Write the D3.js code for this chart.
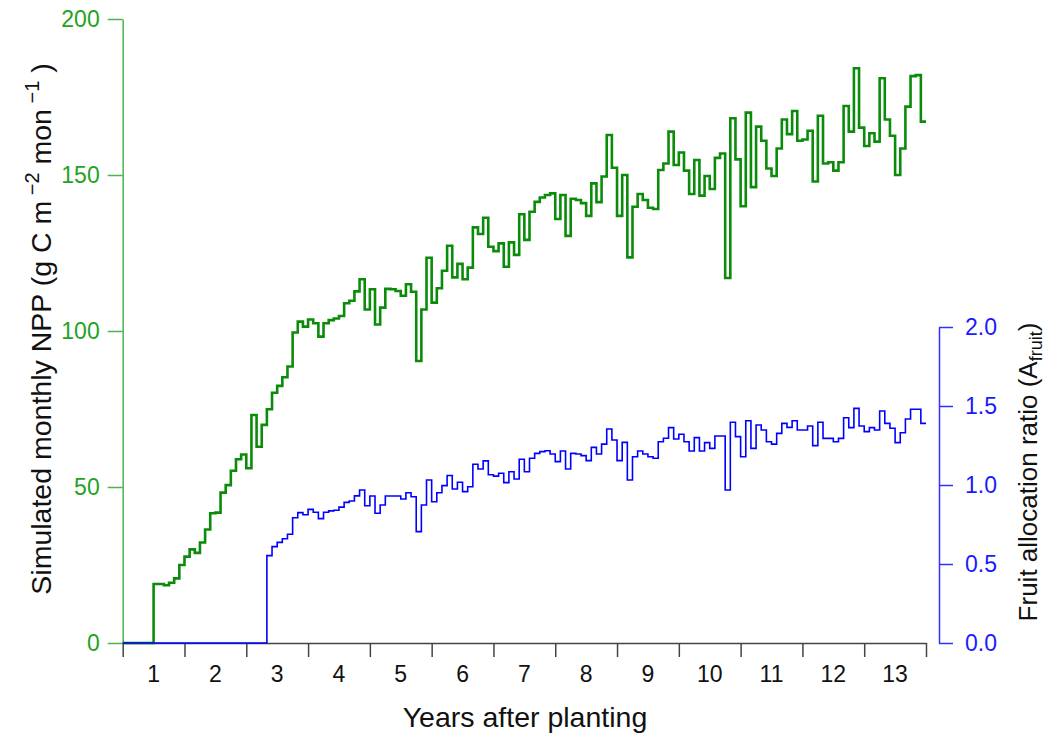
<!DOCTYPE html>
<html>
<head>
<meta charset="utf-8">
<script src="https://cdn.jsdelivr.net/npm/d3@7"></script>
<style>
  body { margin: 0; background: #fff; }
  svg { font-family: "Liberation Sans", Arial, sans-serif; }
</style>
</head>
<body>
<div id="chart"></div>
<script>
// monthly values, month 0 = planting, 156 months in total
var npp = [
  0, 0, 0, 0, 0, 0, 18.9, 18.9, 18.5, 19.3, 20.7, 25,
  27.7, 30, 28.9, 32.2, 36.4, 41.6, 41.8, 48.2, 50.6, 55.2, 58.9, 60.4,
  56, 73.1, 62.9, 69.9, 74.9, 80.2, 82.4, 85.2, 88.6, 99.5, 103, 101.4,
  103.7, 102.5, 98.2, 102.5, 103.5, 104, 104.8, 108.9, 109.7, 112.7, 116.6, 106.9,
  113.4, 102.1, 107.5, 113.5, 113.4, 112.8, 111.3, 115, 112.6, 90.4, 106.9, 123.5,
  109.1, 113.7, 119.3, 127.3, 117.2, 121.5, 116.6, 120.3, 133.2, 131.1, 136.3, 127,
  125.6, 128.1, 120.6, 128.4, 124.4, 137.4, 129.2, 138.2, 141.4, 142.8, 143.6, 144.1,
  135.9, 143.6, 130.5, 142.4, 142, 141, 136.9, 147.3, 141.3, 149.5, 162.8, 152.3,
  136.9, 150, 123.6, 139.8, 143.9, 142, 139.5, 139.1, 151.6, 153.7, 163.9, 153.2,
  157.2, 151.4, 143.9, 154.8, 143.4, 149.7, 145.5, 155.5, 156.9, 117, 168.2, 155,
  140, 170, 146.1, 165.5, 161, 152.1, 149.7, 158.5, 167.8, 163.1, 170.5, 161,
  161.4, 164.2, 147.9, 169, 153.7, 154.1, 151.4, 154.1, 172.1, 163.9, 184.2, 165.2,
  159.3, 163.4, 160.7, 181, 167.8, 162.6, 150, 158.5, 171.9, 181.7, 182, 167.1
];

var afruit = [
  0, 0, 0, 0, 0, 0, 0, 0, 0, 0, 0, 0,
  0, 0, 0, 0, 0, 0, 0, 0, 0, 0, 0, 0,
  0, 0, 0, 0, 0.553, 0.61, 0.637, 0.66, 0.688, 0.793, 0.825, 0.812,
  0.846, 0.828, 0.787, 0.828, 0.836, 0.84, 0.86, 0.89, 0.899, 0.931, 0.968, 0.869,
  0.93, 0.821, 0.873, 0.93, 0.93, 0.93, 0.911, 0.951, 0.926, 0.705, 0.873, 1.032,
  0.894, 0.951, 0.996, 1.06, 0.975, 1.017, 0.958, 0.989, 1.131, 1.101, 1.153, 1.065,
  1.056, 1.074, 1.015, 1.084, 1.038, 1.163, 1.084, 1.169, 1.2, 1.211, 1.217, 1.196,
  1.148, 1.215, 1.101, 1.2, 1.196, 1.186, 1.154, 1.238, 1.196, 1.259, 1.354, 1.285,
  1.154, 1.27, 1.032, 1.179, 1.215, 1.196, 1.179, 1.169, 1.274, 1.296, 1.363, 1.291,
  1.321, 1.274, 1.215, 1.3, 1.215, 1.268, 1.232, 1.31, 1.31, 0.968, 1.397, 1.306,
  1.179, 1.407, 1.232, 1.38, 1.348, 1.274, 1.259, 1.327, 1.39, 1.365, 1.407, 1.348,
  1.348, 1.373, 1.249, 1.397, 1.295, 1.295, 1.274, 1.295, 1.426, 1.363, 1.485, 1.373,
  1.338, 1.363, 1.348, 1.468, 1.39, 1.359, 1.268, 1.331, 1.418, 1.479, 1.479, 1.39
];

var yearLabels = ["1", "2", "3", "4", "5", "6", "7", "8", "9", "10", "11", "12", "13"];
var nppTicks = [0, 50, 100, 150, 200];
var fruitTicks = [0, 0.5, 1, 1.5, 2];

var width = 1049, height = 736;

var svg = d3.select('#chart')
    .append('svg')
    .attr('width', width)
    .attr('height', height);

var x = d3.scaleLinear().domain([0, 156]).range([122.7, 926]);
var yL = d3.scaleLinear().domain([0, 200]).range([643, 19]);
var yR = d3.scaleLinear().domain([0, 2]).range([643, 327]);

// step data: each month holds its value until the next month starts
function steps(values) {
  var pts = values.map((v, i) => [i, v]);
  pts.push([values.length, values[values.length - 1]]);
  return pts;
}

// x axis
var xAxis = svg.append('g')
    .attr('transform', 'translate(0,643)')
    .call(d3.axisBottom(x)
      .tickValues(d3.range(0, 157, 12))
      .tickFormat('')
      .tickSize(14)
      .tickSizeOuter(0));
xAxis.selectAll('path, line').attr('stroke', '#444').attr('stroke-width', 1.5);

svg.append('g')
  .selectAll('text')
  .data(yearLabels)
  .join('text')
    .attr('x', (d, i) => x(6 + 12 * i))
    .attr('y', 682)
    .attr('text-anchor', 'middle')
    .style('font-size', '23px')
    .attr('fill', '#111')
    .text(d => d);

svg.append('text')
    .attr('x', 525)
    .attr('y', 727)
    .attr('text-anchor', 'middle')
    .style('font-size', '28.5px')
    .attr('fill', '#111')
    .text('Years after planting');

// left axis (NPP)
var leftAxis = svg.append('g')
    .attr('transform', 'translate(122.7,0)')
    .call(d3.axisLeft(yL)
      .tickValues(nppTicks)
      .tickSize(15)
      .tickSizeOuter(0)
      .tickPadding(8));
leftAxis.selectAll('path, line').attr('stroke', '#4cb34c').attr('stroke-width', 1.5);
leftAxis.selectAll('text')
    .style('font-size', '23px')
    .attr('fill', '#22a322')
    .attr('font-family', null);

var lt = svg.append('text')
    .attr('transform', 'translate(51,329) rotate(-90)')
    .attr('text-anchor', 'middle')
    .style('font-size', '28.5px')
    .attr('fill', '#111');
lt.append('tspan').text('Simulated monthly NPP (g C m');
lt.append('tspan').attr('dy', -12).style('font-size', '20px').text(' \u22122');
lt.append('tspan').attr('dy', 12).text(' mon');
lt.append('tspan').attr('dy', -12).style('font-size', '20px').text(' \u22121');
lt.append('tspan').attr('dy', 12).text(' )');

// right axis (fruit allocation)
var rightAxis = svg.append('g')
    .attr('transform', 'translate(939,0)')
    .call(d3.axisRight(yR)
      .tickValues(fruitTicks)
      .tickFormat(d3.format('.1f'))
      .tickSize(14)
      .tickSizeOuter(0)
      .tickPadding(12));
rightAxis.selectAll('path, line').attr('stroke', '#3030ff').attr('stroke-width', 1.5);
rightAxis.selectAll('text')
    .style('font-size', '23px')
    .attr('fill', '#1a1aff')
    .attr('font-family', null);

var rt = svg.append('text')
    .attr('transform', 'translate(1037,472) rotate(-90)')
    .attr('text-anchor', 'middle')
    .style('font-size', '26px')
    .attr('fill', '#111');
rt.append('tspan').text('Fruit allocation ratio (A');
rt.append('tspan').attr('dy', 5).style('font-size', '18px').text('fruit');
rt.append('tspan').attr('dy', -5).text(')');

// lines
var lineL = d3.line()
    .x(d => x(d[0]))
    .y(d => yL(d[1]))
    .curve(d3.curveStepAfter);
var lineR = d3.line()
    .x(d => x(d[0]))
    .y(d => yR(d[1]))
    .curve(d3.curveStepAfter);

svg.append('path')
    .attr('d', lineL(steps(npp)))
    .attr('fill', 'none')
    .attr('stroke', '#0a8c0a')
    .attr('stroke-width', 2.6);

svg.append('path')
    .attr('d', lineR(steps(afruit)))
    .attr('fill', 'none')
    .attr('stroke', '#0000ff')
    .attr('stroke-width', 1.6);
</script>
</body>
</html>
